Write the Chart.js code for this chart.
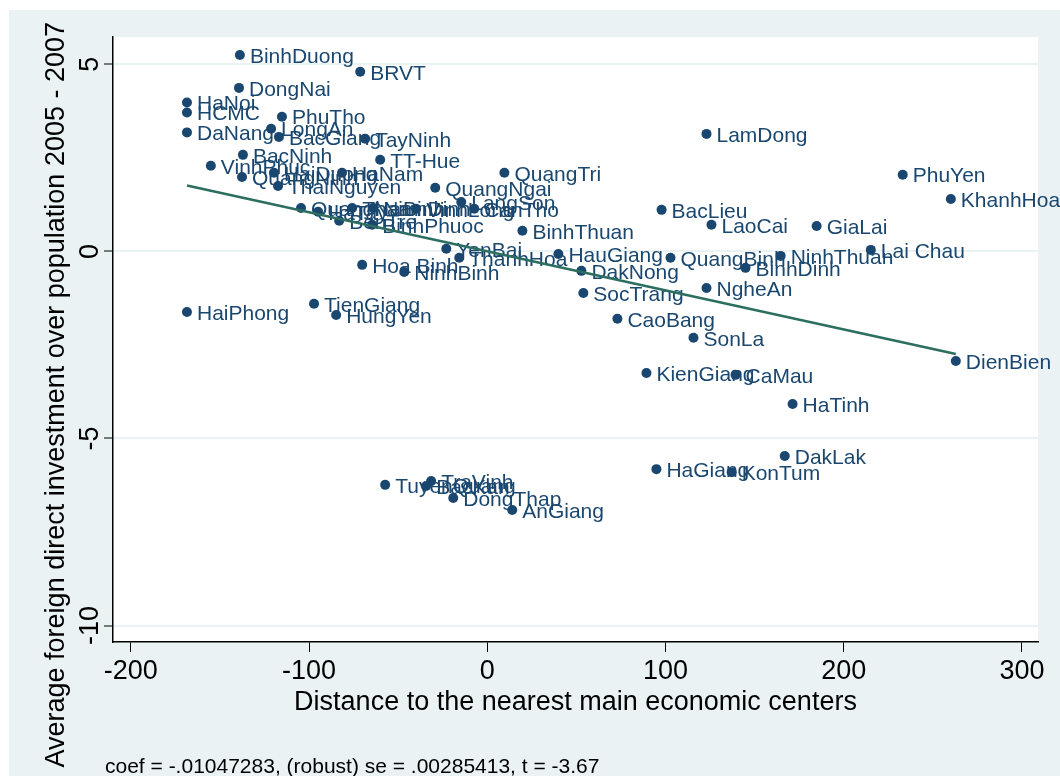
<!DOCTYPE html>
<html>
<head>
<meta charset="utf-8">
<script src="https://cdn.jsdelivr.net/npm/chart.js@4.4.1/dist/chart.umd.min.js"></script>
<style>
  html, body { margin: 0; padding: 0; background: #fff; }
  #wrap { width: 1060px; height: 776px; }
</style>
</head>
<body>
<div id="wrap"><canvas id="chart" width="1060" height="776"></canvas></div>
<script>
'use strict';

// provinces, distance to nearest main economic centre (residual) and FDI per capita (residual)
var provinces = ['BinhDuong', 'BRVT', 'DongNai', 'HaNoi', 'HCMC', 'DaNang', 'PhuTho', 'LongAn',
    'BacGiang', 'TayNinh', 'BacNinh', 'TT-Hue', 'VinhPhuc', 'QuangNinh', 'HaiDuong', 'HaNam',
    'ThaiNguyen', 'QuangNgai', 'QuangTri', 'LangSon', 'CanTho', 'VinhLong', 'BinhThuan', 'YenBai',
    'ThanhHoa', 'Hoa Binh', 'NinhBinh', 'HauGiang', 'DakNong', 'SocTrang', 'CaoBang', 'SonLa',
    'BacLieu', 'LaoCai', 'GiaLai', 'QuangBinh', 'NinhThuan', 'BinhDinh', 'NgheAn', 'Lai Chau',
    'PhuYen', 'KhanhHoa', 'DienBien', 'LamDong', 'HaTinh', 'CaMau', 'KienGiang', 'DakLak',
    'HaGiang', 'KonTum', 'TuyenQuang', 'TraVinh', 'BacKan', 'DongThap', 'AnGiang', 'HaiPhong',
    'TienGiang', 'HungYen', 'QuangNam', 'HaTay', 'BenTre', 'ThaiBinh', 'NamDinh', 'BinhPhuoc'];

var distance = [-138.8, -71.3, -139.3, -168.5, -168.5, -168.5, -115.2, -121.3,
    -116.9, -68.5, -137.1, -60.1, -155.1, -137.6, -119.7, -81.5,
    -117.4, -29.2, 9.6, -14.6, -7.3, -39.9, 19.7, -23.0,
    -15.7, -70.2, -46.6, 39.9, 52.8, 53.9, 73.0, 115.7,
    97.8, 125.8, 184.8, 102.8, 164.6, 144.9, 123.0, 215.2,
    233.1, 260.1, 262.9, 123.0, 171.3, 139.3, 89.3, 166.9,
    94.9, 137.1, -57.3, -31.5, -34.3, -19.1, 14.0, -168.5,
    -97.2, -84.8, -104.5, -94.9, -83.1, -75.8, -64.0, -64.6];

var fdi = [5.25, 4.80, 4.37, 3.98, 3.71, 3.18, 3.60, 3.28,
    3.06, 3.01, 2.58, 2.45, 2.29, 1.99, 2.10, 2.10,
    1.75, 1.70, 2.10, 1.32, 1.14, 1.14, 0.55, 0.07,
    -0.17, -0.36, -0.55, -0.07, -0.52, -1.11, -1.80, -2.31,
    1.11, 0.71, 0.68, -0.17, -0.12, -0.44, -0.98, 0.04,
    2.05, 1.40, -2.93, 3.14, -4.08, -3.30, -3.25, -5.47,
    -5.82, -5.90, -6.24, -6.14, -6.27, -6.59, -6.91, -1.62,
    -1.40, -1.70, 1.16, 1.06, 0.82, 1.16, 1.16, 0.71];

// fitted line end points
var fitX = [-168.5, 262.9];
var fitY = [1.76, -2.74];

var xTicks = [-200, -100, 0, 100, 200, 300];
var yTicks = [-10, -5, 0, 5];

var xTitle = 'Distance to the nearest main economic centers';
var yTitle = 'Average foreign direct investment over population 2005 - 2007';
var note = 'coef = -.01047283, (robust) se = .00285413, t = -3.67';

var navy = '#1a476f';
var FONT = "'Liberation Sans', Arial, Helvetica, sans-serif";

var points = distance.map(function(d, i) {
    return { x: d, y: fdi[i] };
});
var fitLine = fitX.map(function(d, i) {
    return { x: d, y: fitY[i] };
});

// backgrounds: outer graph region + white plot region
var backgroundPlugin = {
    id: 'stataBackground',
    beforeDraw: function(chart) {
        var ctx = chart.ctx;
        var a = chart.chartArea;
        ctx.save();
        ctx.fillStyle = '#ffffff';
        ctx.fillRect(0, 0, chart.width, chart.height);
        ctx.fillStyle = '#eaf2f3';
        ctx.fillRect(9, 10, chart.width - 9, chart.height - 10);
        ctx.fillStyle = '#ffffff';
        ctx.fillRect(a.left, a.top, a.right - a.left, a.bottom - a.top);
        ctx.restore();
    }
};

// marker labels drawn right after the scatter dataset
var markerLabelPlugin = {
    id: 'markerLabels',
    afterDatasetDraw: function(chart, args) {
        if (args.index !== 0) return;
        var ctx = chart.ctx;
        var meta = chart.getDatasetMeta(0);
        ctx.save();
        ctx.font = '21px ' + FONT;
        ctx.fillStyle = navy;
        ctx.textAlign = 'left';
        ctx.textBaseline = 'middle';
        meta.data.forEach(function(pt, i) {
            ctx.fillText(provinces[i], pt.x + 10, pt.y + 2);
        });
        ctx.restore();
    }
};

// tick labels, axis titles and the note
var textPlugin = {
    id: 'stataText',
    afterDraw: function(chart) {
        var ctx = chart.ctx;
        var xs = chart.scales.x;
        var ys = chart.scales.y;
        var a = chart.chartArea;
        ctx.save();
        ctx.fillStyle = '#000';
        ctx.font = '27px ' + FONT;
        ctx.textBaseline = 'alphabetic';
        ctx.textAlign = 'center';
        xTicks.forEach(function(v) {
            ctx.fillText(String(v), xs.getPixelForValue(v), 679);
        });
        yTicks.forEach(function(v) {
            ctx.save();
            ctx.translate(98, ys.getPixelForValue(v));
            ctx.rotate(-Math.PI / 2);
            ctx.fillText(String(v), 0, 0);
            ctx.restore();
        });

        ctx.fillText(xTitle, (a.left + a.right) / 2, 710);

        ctx.save();
        ctx.translate(64, 22);
        ctx.rotate(-Math.PI / 2);
        ctx.textAlign = 'right';
        ctx.fillText(yTitle, 0, 0);
        ctx.restore();

        ctx.font = '21px ' + FONT;
        ctx.textAlign = 'left';
        ctx.fillText(note, 105, 773);
        ctx.restore();
    }
};

var config = {
    type: 'scatter',
    data: {
        datasets: [{
            label: 'provinces',
            data: points,
            order: 2,
            pointRadius: 5,
            pointHoverRadius: 5,
            pointBackgroundColor: navy,
            pointBorderWidth: 0,
            showLine: false
        }, {
            label: 'fit',
            data: fitLine,
            order: 1,
            showLine: true,
            borderColor: '#2c6e60',
            borderWidth: 2.5,
            pointRadius: 0
        }]
    },
    options: {
        responsive: false,
        animation: false,
        events: [],
        layout: {
            padding: { left: 0, top: 37, right: 22, bottom: 0 }
        },
        plugins: {
            legend: { display: false },
            tooltip: { enabled: false }
        },
        scales: {
            x: {
                type: 'linear',
                min: -210,
                max: 309,
                afterBuildTicks: function(scale) {
                    scale.ticks = xTicks.map(function(v) { return { value: v }; });
                },
                afterFit: function(scale) {
                    scale.height = 134;
                },
                ticks: { display: false },
                grid: {
                    drawOnChartArea: false,
                    drawTicks: true,
                    tickLength: 10,
                    tickColor: '#000',
                    tickWidth: 1
                },
                border: { color: '#000', width: 1.5 }
            },
            y: {
                type: 'linear',
                min: -10.44,
                max: 5.73,
                afterBuildTicks: function(scale) {
                    scale.ticks = yTicks.map(function(v) { return { value: v }; });
                },
                afterFit: function(scale) {
                    scale.width = 113;
                },
                ticks: { display: false },
                grid: {
                    color: '#eaf2f3',
                    lineWidth: 2,
                    drawTicks: true,
                    tickLength: 9,
                    tickColor: '#000',
                    tickWidth: 1
                },
                border: { color: '#000', width: 1.5 }
            }
        }
    },
    plugins: [backgroundPlugin, markerLabelPlugin, textPlugin]
};

var chart = new Chart(document.getElementById('chart'), config);
</script>
</body>
</html>
